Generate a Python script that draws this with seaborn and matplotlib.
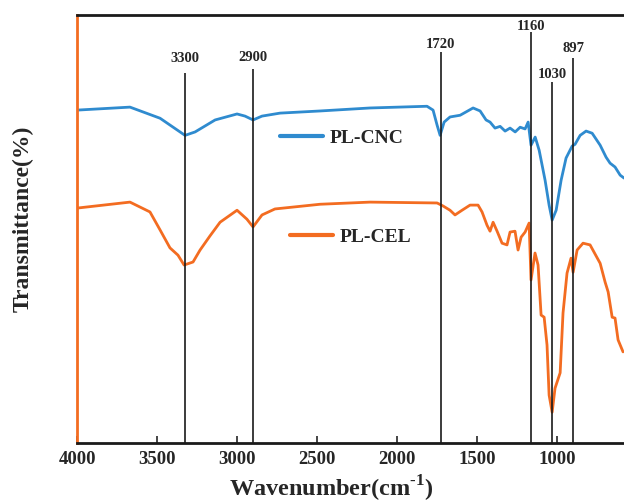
import numpy as np
import pandas as pd
import matplotlib
matplotlib.use('Agg')
import matplotlib.pyplot as plt
from matplotlib.lines import Line2D
import seaborn as sns

# FTIR spectra (wavenumber cm-1, transmittance in arbitrary %)
cnc_wn = [4000, 3669, 3481, 3325, 3262, 3137, 3000, 2950, 2900, 2844, 2731, 2481, 2169,
          1813, 1775, 1750, 1731, 1706, 1669, 1606, 1525, 1481, 1444, 1419, 1388, 1356,
          1325, 1294, 1262, 1231, 1200, 1181, 1163, 1137, 1112, 1075, 1050, 1031, 1006,
          975, 944, 906, 888, 856, 819, 781, 731, 694, 669, 638, 606, 581]
cnc_t = [77.8, 78.5, 75.9, 71.9, 72.7, 75.5, 76.9, 76.4, 75.5, 76.4, 77.1, 77.6, 78.3,
         78.7, 77.8, 74.3, 71.9, 75.0, 76.2, 76.6, 78.3, 77.6, 75.5, 75.0, 73.6, 74.0,
         72.9, 73.6, 72.7, 73.8, 73.4, 75.0, 69.6, 71.5, 68.4, 61.4, 55.6, 52.1, 54.4,
         61.4, 66.6, 69.4, 69.8, 71.9, 72.9, 72.4, 69.6, 66.8, 65.4, 64.5, 62.6, 61.9]

cel_wn = [4000, 3669, 3544, 3481, 3419, 3369, 3331, 3275, 3231, 3169, 3106, 3000, 2938,
          2900, 2844, 2763, 2481, 2169, 1750, 1713, 1669, 1638, 1594, 1544, 1494, 1469,
          1438, 1419, 1400, 1375, 1344, 1313, 1294, 1263, 1244, 1225, 1200, 1175, 1163,
          1138, 1119, 1100, 1081, 1063, 1050, 1031, 1013, 981, 963, 938, 913, 900, 875,
          838, 794, 731, 700, 681, 656, 638, 619, 588]
cel_t = [54.9, 56.3, 54.0, 49.8, 45.6, 43.9, 41.6, 42.3, 45.1, 48.4, 51.6, 54.4, 52.3,
         50.5, 53.3, 54.7, 55.8, 56.3, 56.1, 55.4, 54.4, 53.3, 54.4, 55.6, 55.6, 54.0,
         50.9, 49.5, 51.6, 49.5, 46.7, 46.3, 49.3, 49.5, 45.1, 48.1, 49.3, 51.4, 38.1,
         44.4, 41.6, 29.9, 29.4, 22.9, 11.2, 7.2, 12.8, 16.4, 30.4, 39.7, 43.2, 39.9, 45.1,
         46.7, 46.3, 42.0, 37.6, 35.3, 29.4, 29.2, 24.1, 21.3]

peak_pos = [3325, 2900, 1728, 1160, 1032, 898]
peak_labels = ['3300', '2900', '1720', '1160', '1030', '897']
peak_top = [86.4, 87.4, 91.3, 96.0, 84.3, 89.9]
label_y = [89.0, 89.2, 92.3, 96.5, 85.3, 91.3]

blue = '#2f8bcf'
orange = '#f36c21'

df_cnc = pd.DataFrame({'wn': cnc_wn, 't': cnc_t})
df_cel = pd.DataFrame({'wn': cel_wn, 't': cel_t})

sns.set_style('ticks')
plt.rcParams['font.family'] = ['Liberation Serif', 'DejaVu Serif']
plt.rcParams['font.weight'] = 'bold'
plt.rcParams['mathtext.fontset'] = 'custom'
plt.rcParams['mathtext.rm'] = 'Liberation Serif:bold'
plt.rcParams['mathtext.bf'] = 'Liberation Serif:bold'

fig = plt.figure(figsize=(6.24, 5.04), dpi=100)
ax = fig.add_axes([0.1234, 0.121, 0.8766, 0.849])

sns.lineplot(data=df_cnc, x='wn', y='t', ax=ax, color=blue, lw=2.0)
sns.lineplot(data=df_cel, x='wn', y='t', ax=ax, color=orange, lw=2.0)

# marker lines for the band positions
ax.vlines(peak_pos, 0, peak_top, color='#1a1a1a', lw=1.2, zorder=3)
for x, lab, y in zip(peak_pos, peak_labels, label_y):
    ax.text(x, y, lab, ha='center', va='baseline', fontsize=10.5, fontweight='bold')

ax.set_xlim(4000, 582)
ax.set_ylim(0, 100)
ax.set_xticks([4000, 3500, 3000, 2500, 2000, 1500, 1000])
ax.set_yticks([])
ax.tick_params(axis='x', direction='in', length=5, width=1.2, labelsize=13.5, pad=6)
for lab in ax.get_xticklabels():
    lab.set_fontweight('bold')

for s in ['top', 'bottom']:
    ax.spines[s].set_color('#1a1a1a')
    ax.spines[s].set_linewidth(2)
ax.spines['left'].set_color(orange)
ax.spines['left'].set_linewidth(2)
ax.spines['right'].set_visible(False)

ax.set_xlabel('Wavenumber(cm$^{\\text{-1}}$)', fontsize=17.5, fontweight='bold')
ax.xaxis.set_label_coords(0.464, -0.073, transform=ax.transAxes)
ax.xaxis.label.set_va('top')
ax.set_ylabel('Transmittance(%)', fontsize=17, fontweight='bold')
ax.yaxis.set_label_coords(-0.08, 0.525)

leg1 = ax.legend(handles=[Line2D([], [], color=blue, lw=3)], labels=['PL-CNC'],
                 loc='center left', bbox_to_anchor=(0.371, 0.713), frameon=False,
                 borderpad=0, borderaxespad=0, handlelength=2.2, handletextpad=0.35,
                 prop={'size': 14, 'weight': 'bold'})
ax.add_artist(leg1)
ax.legend(handles=[Line2D([], [], color=orange, lw=3)], labels=['PL-CEL'],
          loc='center left', bbox_to_anchor=(0.389, 0.481), frameon=False,
          borderpad=0, borderaxespad=0, handlelength=2.2, handletextpad=0.35,
          prop={'size': 14, 'weight': 'bold'})

plt.savefig('out.png', dpi=100)
